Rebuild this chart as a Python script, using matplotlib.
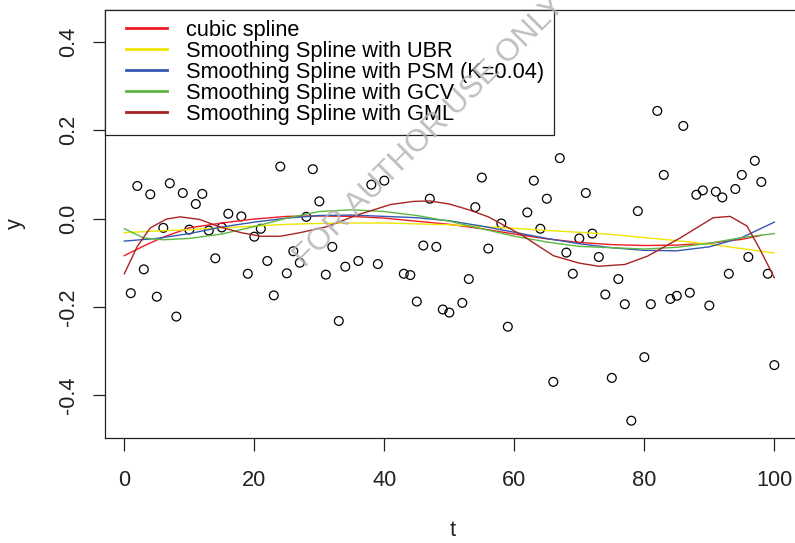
import matplotlib
matplotlib.use('Agg')
import matplotlib.pyplot as plt
from matplotlib.legend_handler import HandlerLine2D
from matplotlib.lines import Line2D
import numpy as np

plt.rcParams['font.family'] = ['Liberation Sans', 'DejaVu Sans']

# ---- data ----
t = list(range(1, 101))
y = [-0.169, 0.074, -0.115, 0.055, -0.177, -0.021, 0.080, -0.222, 0.058, -0.025,
     0.033, 0.056, -0.027, -0.090, -0.020, 0.011, 0.240, 0.005, -0.125, -0.041,
     -0.023, -0.096, -0.174, 0.118, -0.124, -0.074, -0.100, 0.004, 0.112, 0.039,
     -0.127, -0.064, -0.232, -0.109, 0.260, -0.096, 0.230, 0.077, -0.103, 0.086,
     0.280, 0.250, -0.125, -0.128, -0.188, -0.061, 0.045, -0.064, -0.206, -0.213,
     0.240, -0.191, -0.137, 0.026, 0.093, -0.068, 0.270, -0.011, -0.245, 0.230,
     0.260, 0.014, 0.086, -0.023, 0.045, -0.370, 0.137, -0.077, -0.125, -0.045,
     0.058, -0.034, -0.087, -0.172, -0.361, -0.137, -0.194, -0.458, 0.017, -0.314,
     -0.194, 0.244, 0.099, -0.182, -0.175, 0.210, -0.168, 0.054, 0.064, -0.197,
     0.061, 0.048, -0.125, 0.067, 0.099, -0.087, 0.131, 0.083, -0.125, -0.332]

cubic_t = [0, 3, 6, 10, 15, 20, 25, 30, 35, 40, 45, 50, 55, 60, 65, 70, 75, 80, 85, 90, 95, 98]
cubic_y = [-0.084, -0.062, -0.042, -0.021, -0.010, -0.001, 0.005, 0.006, 0.005, 0.001,
           -0.006, -0.013, -0.023, -0.035, -0.046, -0.054, -0.059, -0.061, -0.060, -0.056,
           -0.047, -0.038]

grid_t = [0, 5, 10, 15, 20, 25, 30, 35, 40, 45, 50, 55, 60, 65, 70, 75, 80, 85, 90, 95, 100]
ubr_y = [-0.032, -0.028, -0.025, -0.021, -0.017, -0.013, -0.011, -0.010, -0.010, -0.012,
         -0.014, -0.018, -0.022, -0.027, -0.031, -0.036, -0.043, -0.050, -0.058, -0.068, -0.078]
psm_y = [-0.051, -0.045, -0.034, -0.019, -0.008, 0.001, 0.007, 0.008, 0.005, 0.002,
         -0.005, -0.017, -0.031, -0.045, -0.057, -0.066, -0.072, -0.073, -0.064, -0.043, -0.008]

gcv_t = [0, 3, 6, 10, 15, 20, 25, 30, 35, 40, 45, 50, 55, 60, 65, 70, 75, 80, 85, 90, 95, 100]
gcv_y = [-0.023, -0.044, -0.048, -0.045, -0.035, -0.018, 0.001, 0.016, 0.020, 0.016, 0.007,
         -0.006, -0.023, -0.040, -0.053, -0.063, -0.066, -0.069, -0.065, -0.056, -0.043, -0.034]

gml_t = [0, 2, 4, 6.5, 8.6, 11.6, 14.7, 18, 21, 24, 27, 31, 36, 41, 44.5, 47, 50, 53, 56,
         61, 66, 70, 73, 77, 80.5, 85.5, 90.6, 93.2, 95.8, 97.8, 100]
gml_y = [-0.125, -0.063, -0.021, -0.001, 0.004, -0.002, -0.019, -0.032, -0.040, -0.040,
         -0.032, -0.019, 0.009, 0.032, 0.039, 0.040, 0.033, 0.020, 0.004, -0.036, -0.084,
         -0.101, -0.108, -0.104, -0.085, -0.044, 0.002, 0.005, -0.017, -0.070, -0.134]

labels = ['cubic spline', 'Smoothing Spline with UBR', 'Smoothing Spline with PSM (K=0.04)',
          'Smoothing Spline with GCV', 'Smoothing Spline with GML']
colors = ['#EE1C24', '#EEE600', '#3558B0', '#5DB843', '#A82424']
yticks = [-0.4, -0.2, 0.0, 0.2, 0.4]
xticks = [0, 20, 40, 60, 80, 100]

# ---- figure ----
W, H = 795, 543
FS = 15.7
fig = plt.figure(figsize=(W / 100, H / 100), dpi=100)
ax = fig.add_axes([105 / W, (H - 438) / H, (800 - 105) / W, (438 - 10) / H])

ax.scatter(t, y, s=40, facecolors='none', edgecolors='black', linewidths=0.9, zorder=2)

series = [(cubic_t, cubic_y), (grid_t, ubr_y), (grid_t, psm_y), (gcv_t, gcv_y), (gml_t, gml_y)]
for (xs, ys), c, lab in zip(series, colors, labels):
    ax.plot(xs, ys, color=c, lw=1.0, label=lab, zorder=3)

ax.set_xlim(-2.97, 103.95)
ax.set_ylim(-0.4972, 0.4727)
ax.set_xticks(xticks)
ax.set_xticklabels([str(v) for v in xticks])
ax.set_yticks(yticks)
ax.set_yticklabels(['%.1f' % v for v in yticks])

for sp in ax.spines.values():
    sp.set_linewidth(0.9)
    sp.set_color('#222222')

ax.tick_params(axis='both', direction='out', length=9, width=0.9, colors='#222222',
               labelsize=FS, labelcolor='#222222')
ax.tick_params(axis='x', pad=14)
ax.tick_params(axis='y', pad=9.5)
for lbl in ax.get_yticklabels():
    lbl.set_rotation(90)
    lbl.set_va('center')

ax.set_xlabel('t', fontsize=FS, color='#222222')
ax.set_ylabel('y', fontsize=FS, color='#222222')
ax.xaxis.label.set_va('center')
ax.xaxis.set_label_coords(0.5, (438 - 531) / 428)
ax.yaxis.label.set_va('center')
ax.yaxis.set_label_coords((15 - 105) / 695, 0.5)

leg = ax.legend(loc='upper left', bbox_to_anchor=(0, 1), borderaxespad=0,
                fontsize=FS, frameon=True, fancybox=False, framealpha=1,
                edgecolor='#222222', handlelength=2.9, handletextpad=0.36,
                labelspacing=0.0, borderpad=0.45, numpoints=2,
                handler_map={Line2D: HandlerLine2D(marker_pad=0.52, numpoints=2)})
leg.get_frame().set_linewidth(0.9)
for ln in leg.get_lines():
    ln.set_linewidth(2.0)
leg.set_zorder(5)

fig.text(430 / W, 1 - 132 / H, 'FOR AUTHOR USE ONLY', rotation=45, fontsize=22.5,
         color='#b4b4b4', alpha=0.85, ha='center', va='center', rotation_mode='anchor',
         zorder=10)

fig.savefig('out.png', dpi=100)
